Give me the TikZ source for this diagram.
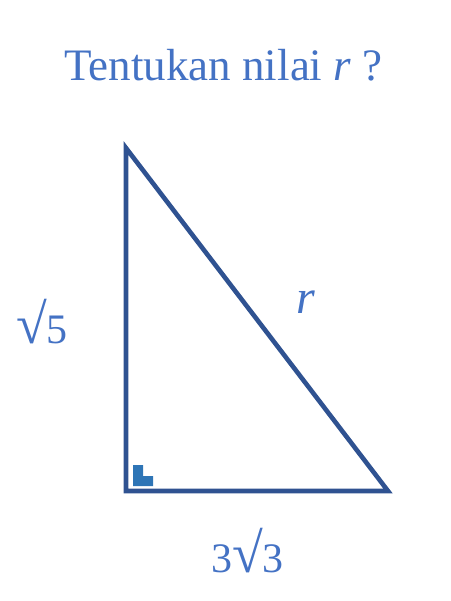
\documentclass[tikz,border=0pt]{standalone}
\usepackage{fontspec}
\setmainfont{Liberation Serif}
\usepackage{tikz}
\definecolor{textblue}{HTML}{4472C4}
\definecolor{edgeblue}{HTML}{2F5291}
\definecolor{markblue}{HTML}{2E75B6}
\newcommand{\bigroot}{{\fontsize{56}{60}\selectfont √}}
\tikzset{
  side/.style={line width=4.6pt, edgeblue, line join=miter},
  lbl/.style={textblue, anchor=base, inner sep=0pt},
  rmark/.style={fill=markblue, draw=none}
}
\begin{document}
\begin{tikzpicture}[x=1pt, y=-1pt]
		\useasboundingbox (0,0) rectangle (450,601);
		\coordinate (A) at (126,491);
		\coordinate (B) at (126,148);
		\coordinate (C) at (388,491);
		\draw[side] (A) -- (B) -- (C) -- cycle;
		\fill[rmark] (133,465) -- (143,465) -- (143,476) -- (153,476) -- (153,486) -- (133,486) -- cycle;
		\node[lbl, font=\fontsize{45}{54}\selectfont] (title) at (223.5,81) {Tentukan nilai \textit{r} ?};
		\node[lbl, font=\fontsize{42}{50}\selectfont] (ab) at (42,343) {\bigroot 5};
		\node[lbl, font=\fontsize{48}{58}\selectfont] (bc) at (306,313) {\textit{r}};
		\node[lbl, font=\fontsize{42}{50}\selectfont] (ac) at (247.5,572) {3\bigroot 3};
	\end{tikzpicture}
\end{document}
